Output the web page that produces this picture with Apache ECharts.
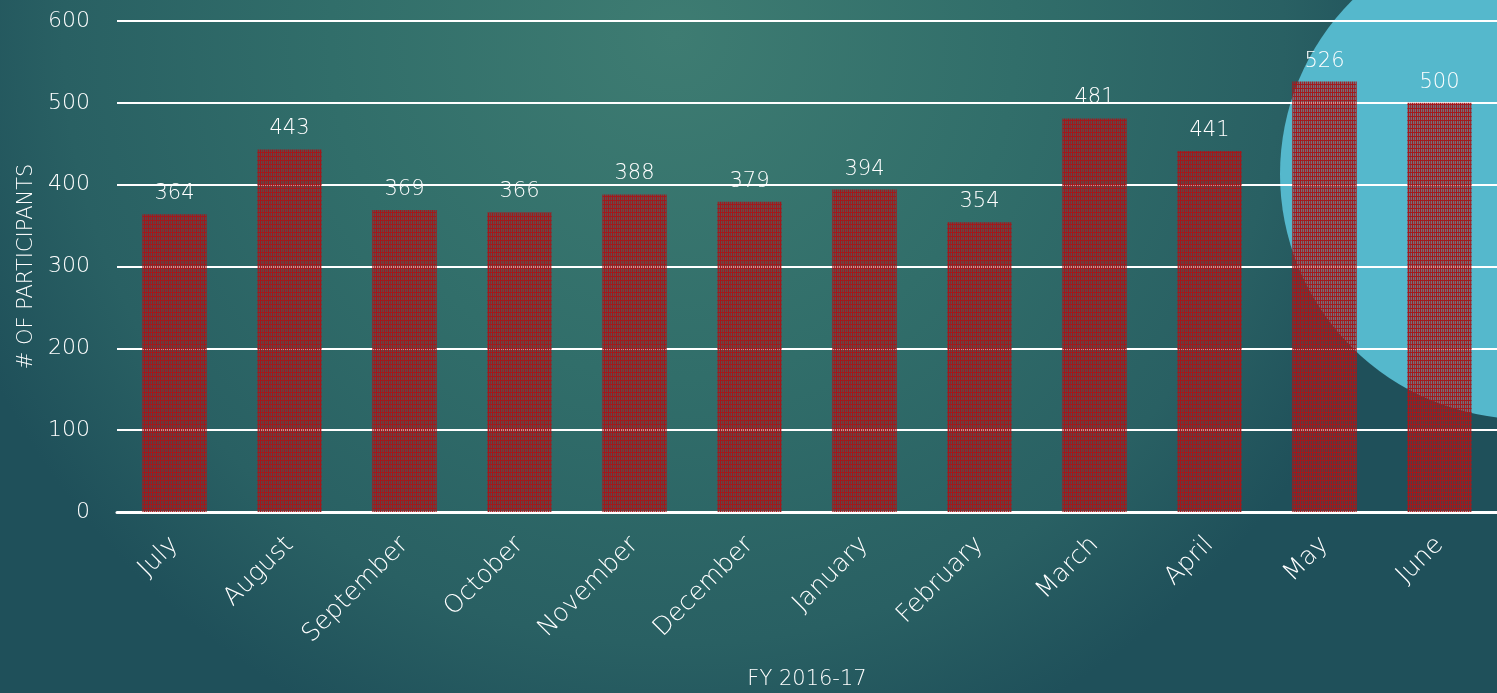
<!DOCTYPE html>
<html>
<head>
<meta charset="utf-8">
<script src="https://cdn.jsdelivr.net/npm/echarts@6/dist/echarts.min.js"></script>
<style>
html,body{margin:0;padding:0;width:1497px;height:693px;overflow:hidden;}
#c{width:1497px;height:693px;}
</style>
</head>
<body>
<div id="c"></div>
<script>
const categories = ['July','August','September','October','November','December','January','February','March','April','May','June'];
const participants = [364, 443, 369, 366, 388, 379, 394, 354, 481, 441, 526, 500];
const yTicks = [0, 100, 200, 300, 400, 500, 600];
const yTitle = '# OF PARTICIPANTS';
const xTitle = 'FY 2016-17';

// bar hatch pattern
const pc = document.createElement('canvas');
pc.width = 4; pc.height = 4;
const g = pc.getContext('2d');
g.fillStyle = 'rgba(145,35,40,0.5)';
g.fillRect(0,0,4,4);
g.fillStyle = 'rgba(168,22,25,0.95)';
g.fillRect(0,0,4,1);
g.fillRect(0,0,1,4);
g.fillStyle = 'rgba(160,28,30,0.75)';
g.fillRect(2,0,1,4);

const FONT = 'DejaVu Sans';
const FW = 200;
const chart = echarts.init(document.getElementById('c'), null, {renderer:'canvas'});
chart.setOption({
  backgroundColor: {
    type: 'radial', x: 0.45, y: 0.05, r: 1.1,
    colorStops: [
      {offset: 0, color: '#3e7c72'},
      {offset: 0.45, color: '#316e6a'},
      {offset: 0.8, color: '#296063'},
      {offset: 1, color: '#1f505a'}
    ]
  },
  graphic: [{
    type: 'circle', z: -10, silent: true,
    shape: {cx: 1525, cy: 174, r: 245},
    style: {fill: '#55b8cc'}
  }],
  grid: {left: 117, right: 0, top: 21, bottom: 181, containLabel: false, outerBoundsMode: 'none'},
  xAxis: {
    type: 'category', data: categories,
    name: xTitle, nameLocation: 'middle', nameGap: 157,
    nameTextStyle: {color: '#ffffff', fontFamily: FONT, fontWeight: FW, fontSize: 21},
    axisLine: {lineStyle: {color: '#ffffff', width: 3}},
    axisTick: {show: false},
    axisLabel: {rotate: 45, color: '#ffffff', fontFamily: FONT, fontWeight: FW, fontSize: 25, margin: 29, interval: 0}
  },
  yAxis: {
    type: 'value', min: yTicks[0], max: yTicks[yTicks.length-1], interval: 100,
    name: yTitle, nameLocation: 'middle', nameGap: 78,
    nameTextStyle: {color: '#ffffff', fontFamily: FONT, fontWeight: FW, fontSize: 21},
    axisLine: {show: false}, axisTick: {show: false},
    axisLabel: {color: '#ffffff', fontFamily: FONT, fontWeight: FW, fontSize: 22, margin: 27},
    splitLine: {lineStyle: {color: '#ffffff', width: 2}}
  },
  series: [{
    type: 'bar', data: participants, barWidth: '56%',
    itemStyle: {color: {image: pc, repeat: 'repeat'}},
    label: {show: true, position: 'top', distance: 10, color: '#ffffff', fontFamily: FONT, fontWeight: FW, fontSize: 21}
  }]
});
</script>
</body>
</html>
